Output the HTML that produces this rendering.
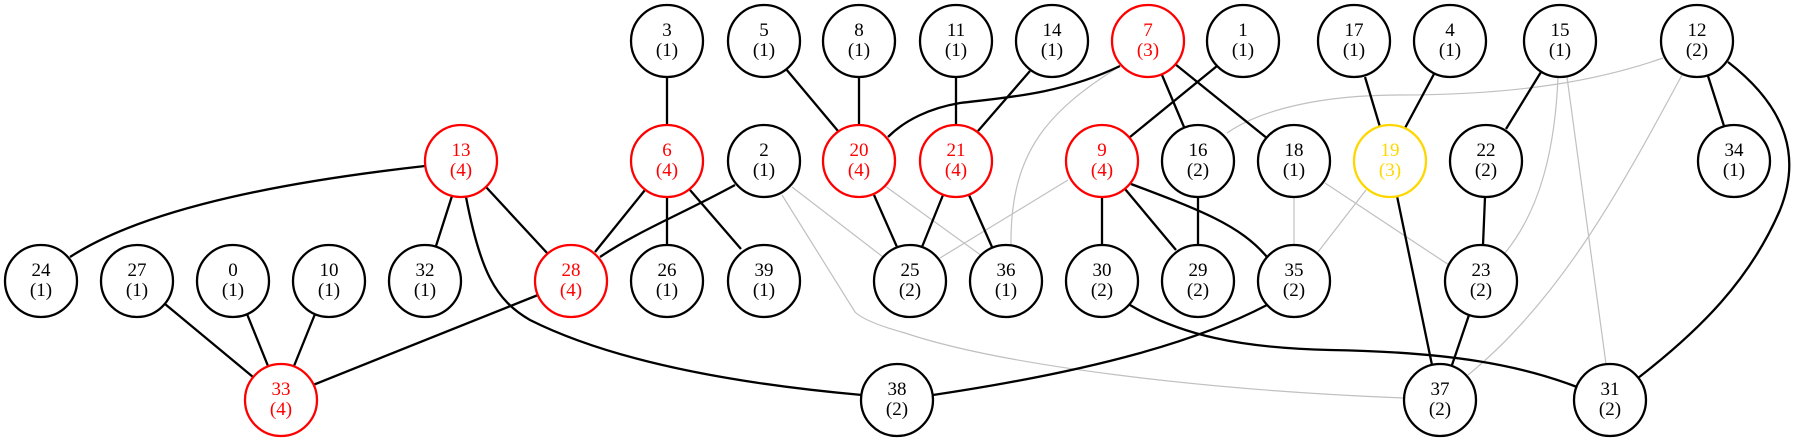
<!DOCTYPE html>
<html><head><meta charset="utf-8"><style>
html,body{margin:0;padding:0;background:#fff;}
svg{display:block;}
text{font-family:"Liberation Serif",serif;font-size:19px;text-anchor:middle;}
.b{stroke:#000;stroke-width:2.3;fill:none;}
.g{stroke:#c0c0c0;stroke-width:1.2;fill:none;}
circle{fill:#fff;stroke-width:2.3;}
</style></head><body>
<svg width="1797" height="441" viewBox="0 0 1797 441" xmlns="http://www.w3.org/2000/svg">
<!-- gray edges -->
<path class="g" d="M1663,58 C1600,80 1520,95 1400,95 C1320,95 1260,110 1227,133"/>
<path class="g" d="M1120,66 C1050,110 1010,150 1011,245"/>
<path class="g" d="M792,187 L883,257"/>
<path class="g" d="M782,195 L855,312 Q865,322 905,333 C1000,365 1200,390 1404,398"/>
<path class="g" d="M885,186 L982,256"/>
<path class="g" d="M1068,180 L940,258"/>
<path class="g" d="M1325,183 L1449,265"/>
<path class="g" d="M1294,197 L1294,245"/>
<path class="g" d="M1366,190 L1318,252"/>
<path class="g" d="M1558,77 C1555,150 1540,210 1505,253"/>
<path class="g" d="M1567,77 L1606,364"/>
<path class="g" d="M1682,75 C1620,190 1560,300 1468,375"/>
<!-- black edges -->
<path class="b" d="M667,77 L667,125"/>
<path class="b" d="M786,69 L838,131"/>
<path class="b" d="M859,77 L859,125"/>
<path class="b" d="M956,77 L956,125"/>
<path class="b" d="M1030,71 L978,131"/>
<path class="b" d="M1120,66 C1060,95 1000,98 960,103 C930,108 905,120 888,137"/>
<path class="b" d="M1162,75 L1184,127"/>
<path class="b" d="M1175,64 L1268,139"/>
<path class="b" d="M1217,66 L1130,137"/>
<path class="b" d="M1365,77 L1380,127"/>
<path class="b" d="M1434,74 L1405,128"/>
<path class="b" d="M1541,72 L1506,129"/>
<path class="b" d="M1708,76 L1724,126"/>
<path class="b" d="M1728,62 C1790,110 1800,160 1780,210 C1750,280 1700,330 1638,378"/>
<path class="b" d="M425,166 C300,180 150,205 70,257"/>
<path class="b" d="M452,196 L436,246"/>
<path class="b" d="M486,187 L548,254"/>
<path class="b" d="M466,197 C480,270 495,300 530,320 C620,365 750,385 862,395"/>
<path class="b" d="M645,190 L595,252"/>
<path class="b" d="M667,197 L667,245"/>
<path class="b" d="M690,190 L741,249"/>
<path class="b" d="M735,185 C680,215 640,230 600,257"/>
<path class="b" d="M874,195 L897,247"/>
<path class="b" d="M943,195 L922,247"/>
<path class="b" d="M969,195 L992,247"/>
<path class="b" d="M1102,197 L1102,245"/>
<path class="b" d="M1125,189 L1176,250"/>
<path class="b" d="M1131,184 C1200,210 1240,225 1267,257"/>
<path class="b" d="M1198,197 L1198,245"/>
<path class="b" d="M1485,197 L1483,245"/>
<path class="b" d="M1397,196 L1432,365"/>
<path class="b" d="M1469,315 L1452,365"/>
<path class="b" d="M165,304 L253,377"/>
<path class="b" d="M247,314 L268,366"/>
<path class="b" d="M315,314 L294,366"/>
<path class="b" d="M538,295 L313,385"/>
<path class="b" d="M1267,305 C1200,340 1100,370 933,395"/>
<path class="b" d="M1130,305 C1180,335 1240,348 1330,350 C1450,352 1520,365 1577,387"/>
<!-- nodes -->
<g>
<circle cx="667" cy="41" r="36" stroke="#000"/><text x="667" y="36">3</text><text x="667" y="56">(1)</text>
<circle cx="764" cy="41" r="36" stroke="#000"/><text x="764" y="36">5</text><text x="764" y="56">(1)</text>
<circle cx="859" cy="41" r="36" stroke="#000"/><text x="859" y="36">8</text><text x="859" y="56">(1)</text>
<circle cx="956" cy="41" r="36" stroke="#000"/><text x="956" y="36">11</text><text x="956" y="56">(1)</text>
<circle cx="1052" cy="41" r="36" stroke="#000"/><text x="1052" y="36">14</text><text x="1052" y="56">(1)</text>
<circle cx="1148" cy="41" r="36" stroke="#f00"/><text x="1148" y="36" fill="#f00">7</text><text x="1148" y="56" fill="#f00">(3)</text>
<circle cx="1243" cy="41" r="36" stroke="#000"/><text x="1243" y="36">1</text><text x="1243" y="56">(1)</text>
<circle cx="1354" cy="41" r="36" stroke="#000"/><text x="1354" y="36">17</text><text x="1354" y="56">(1)</text>
<circle cx="1450" cy="41" r="36" stroke="#000"/><text x="1450" y="36">4</text><text x="1450" y="56">(1)</text>
<circle cx="1560" cy="41" r="36" stroke="#000"/><text x="1560" y="36">15</text><text x="1560" y="56">(1)</text>
<circle cx="1697" cy="41" r="36" stroke="#000"/><text x="1697" y="36">12</text><text x="1697" y="56">(2)</text>

<circle cx="461" cy="161" r="36" stroke="#f00"/><text x="461" y="156" fill="#f00">13</text><text x="461" y="176" fill="#f00">(4)</text>
<circle cx="667" cy="161" r="36" stroke="#f00"/><text x="667" y="156" fill="#f00">6</text><text x="667" y="176" fill="#f00">(4)</text>
<circle cx="764" cy="161" r="36" stroke="#000"/><text x="764" y="156">2</text><text x="764" y="176">(1)</text>
<circle cx="859" cy="161" r="36" stroke="#f00"/><text x="859" y="156" fill="#f00">20</text><text x="859" y="176" fill="#f00">(4)</text>
<circle cx="956" cy="161" r="36" stroke="#f00"/><text x="956" y="156" fill="#f00">21</text><text x="956" y="176" fill="#f00">(4)</text>
<circle cx="1102" cy="161" r="36" stroke="#f00"/><text x="1102" y="156" fill="#f00">9</text><text x="1102" y="176" fill="#f00">(4)</text>
<circle cx="1198" cy="161" r="36" stroke="#000"/><text x="1198" y="156">16</text><text x="1198" y="176">(2)</text>
<circle cx="1294" cy="161" r="36" stroke="#000"/><text x="1294" y="156">18</text><text x="1294" y="176">(1)</text>
<circle cx="1390" cy="161" r="36" stroke="#ffd700"/><text x="1390" y="156" fill="#ffd700">19</text><text x="1390" y="176" fill="#ffd700">(3)</text>
<circle cx="1486" cy="161" r="36" stroke="#000"/><text x="1486" y="156">22</text><text x="1486" y="176">(2)</text>
<circle cx="1734" cy="161" r="36" stroke="#000"/><text x="1734" y="156">34</text><text x="1734" y="176">(1)</text>

<circle cx="41" cy="281" r="36" stroke="#000"/><text x="41" y="276">24</text><text x="41" y="296">(1)</text>
<circle cx="137" cy="281" r="36" stroke="#000"/><text x="137" y="276">27</text><text x="137" y="296">(1)</text>
<circle cx="233" cy="281" r="36" stroke="#000"/><text x="233" y="276">0</text><text x="233" y="296">(1)</text>
<circle cx="329" cy="281" r="36" stroke="#000"/><text x="329" y="276">10</text><text x="329" y="296">(1)</text>
<circle cx="425" cy="281" r="36" stroke="#000"/><text x="425" y="276">32</text><text x="425" y="296">(1)</text>
<circle cx="571" cy="281" r="36" stroke="#f00"/><text x="571" y="276" fill="#f00">28</text><text x="571" y="296" fill="#f00">(4)</text>
<circle cx="667" cy="281" r="36" stroke="#000"/><text x="667" y="276">26</text><text x="667" y="296">(1)</text>
<circle cx="764" cy="281" r="36" stroke="#000"/><text x="764" y="276">39</text><text x="764" y="296">(1)</text>
<circle cx="910" cy="281" r="36" stroke="#000"/><text x="910" y="276">25</text><text x="910" y="296">(2)</text>
<circle cx="1006" cy="281" r="36" stroke="#000"/><text x="1006" y="276">36</text><text x="1006" y="296">(1)</text>
<circle cx="1102" cy="281" r="36" stroke="#000"/><text x="1102" y="276">30</text><text x="1102" y="296">(2)</text>
<circle cx="1198" cy="281" r="36" stroke="#000"/><text x="1198" y="276">29</text><text x="1198" y="296">(2)</text>
<circle cx="1294" cy="281" r="36" stroke="#000"/><text x="1294" y="276">35</text><text x="1294" y="296">(2)</text>
<circle cx="1481" cy="281" r="36" stroke="#000"/><text x="1481" y="276">23</text><text x="1481" y="296">(2)</text>

<circle cx="281" cy="400" r="36" stroke="#f00"/><text x="281" y="395" fill="#f00">33</text><text x="281" y="415" fill="#f00">(4)</text>
<circle cx="897" cy="400" r="36" stroke="#000"/><text x="897" y="395">38</text><text x="897" y="415">(2)</text>
<circle cx="1440" cy="400" r="36" stroke="#000"/><text x="1440" y="395">37</text><text x="1440" y="415">(2)</text>
<circle cx="1610" cy="400" r="36" stroke="#000"/><text x="1610" y="395">31</text><text x="1610" y="415">(2)</text>
</g>
</svg>
</body></html>
